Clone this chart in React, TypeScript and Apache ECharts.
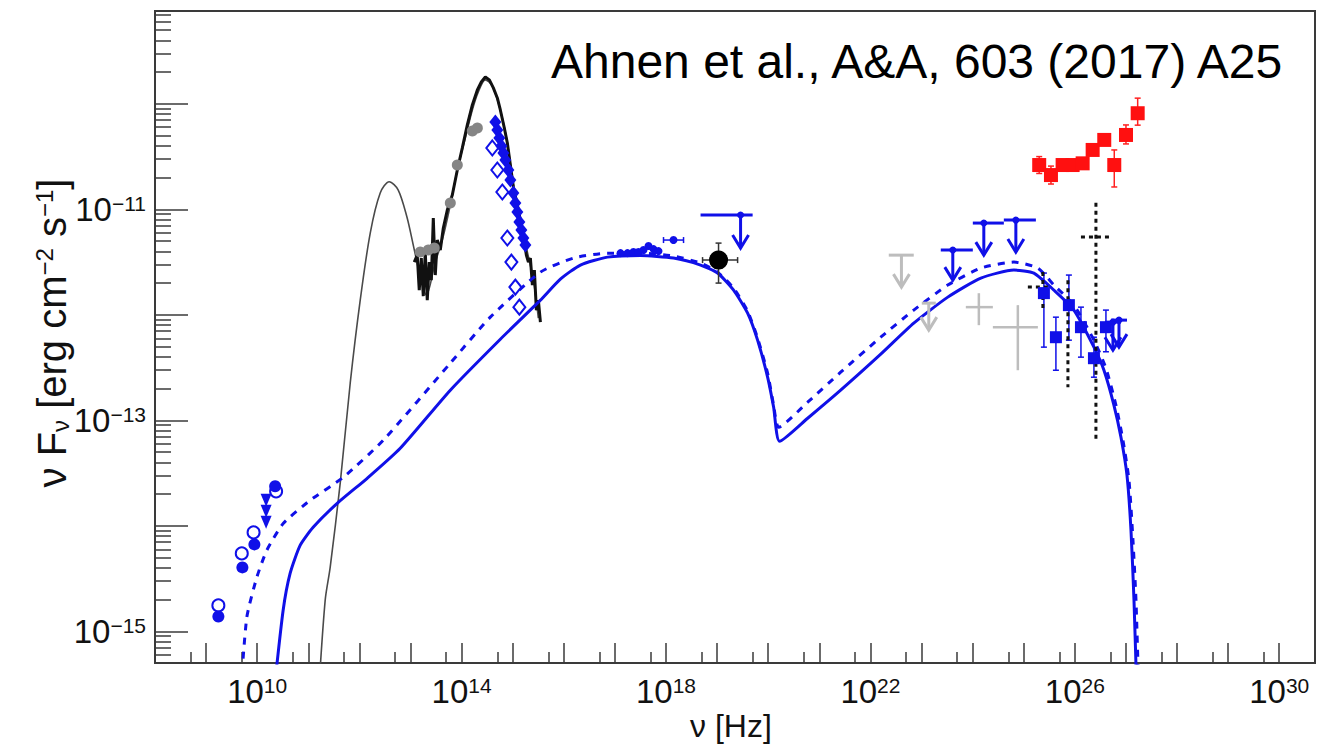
import React, { useEffect, useRef } from "react";
import * as echarts from "echarts";

// Axes are in log10 units: x = log10(nu / Hz), y = log10(nu F_nu / erg cm^-2 s^-1)
const X_MIN = 8;
const X_MAX = 30.7;
const Y_MIN = -15.3;
const Y_MAX = -9.12;

const X_LABELS = [10, 14, 18, 22, 26, 30];
const Y_LABELS = [-15, -13, -11];

// SSC model (solid)
const sscSolid = [
  [10.331, -15.561], [10.507, -14.802], [10.644, -14.451], [10.84, -14.185], [11.095, -14.014],
  [11.565, -13.787], [12.153, -13.549], [12.799, -13.265], [13.779, -12.714], [14.758, -12.231],
  [15.542, -11.861], [15.933, -11.661], [16.325, -11.528], [16.854, -11.453], [17.501, -11.438],
  [18.147, -11.462], [18.676, -11.528], [19.009, -11.604], [19.322, -11.766], [19.597, -11.984],
  [19.792, -12.24], [19.988, -12.591], [20.106, -12.876], [20.223, -13.198], [20.772, -12.98],
  [21.418, -12.714], [22.202, -12.373], [22.848, -12.079], [23.514, -11.832], [24.161, -11.652],
  [24.807, -11.576], [25.199, -11.604], [25.591, -11.766], [25.982, -11.955], [26.374, -12.306],
  [26.57, -12.525], [26.766, -12.857], [26.903, -13.16], [27.021, -13.521], [27.099, -14.043],
  [27.158, -14.707], [27.217, -15.656],
];

// SSC model (dashed)
const sscDashed = [
  [9.665, -15.656], [9.796, -14.868], [9.992, -14.489], [10.188, -14.232], [10.513, -13.976],
  [11.036, -13.758], [11.683, -13.54], [12.466, -13.189], [13.779, -12.458], [14.562, -12.022],
  [15.542, -11.595], [16.188, -11.462], [16.854, -11.415], [17.501, -11.415], [18.147, -11.443],
  [18.676, -11.509], [19.009, -11.595], [19.322, -11.747], [19.597, -11.965], [19.792, -12.221],
  [19.988, -12.553], [20.106, -12.857], [20.204, -13.065], [20.772, -12.828], [21.418, -12.544],
  [22.202, -12.212], [22.848, -11.955], [23.514, -11.718], [24.161, -11.557], [24.807, -11.5],
  [25.277, -11.557], [25.591, -11.718], [25.982, -11.908], [26.374, -12.24], [26.609, -12.506],
  [26.805, -12.857], [26.942, -13.189], [27.06, -13.568], [27.138, -14.138], [27.197, -14.707],
  [27.256, -15.656],
];

// thermal / host model (thin grey)
const hostModel = [
  [11.193, -15.656], [11.33, -14.707], [11.428, -14.394], [11.624, -13.597], [11.82, -12.648],
  [12.016, -11.861], [12.212, -11.225], [12.407, -10.845], [12.584, -10.738], [12.76, -10.817],
  [12.93, -11.073], [13.054, -11.339], [13.152, -11.557], [13.23, -11.718], [13.309, -11.813],
  [13.485, -11.5], [13.622, -11.291], [13.779, -10.959], [13.916, -10.627], [14.072, -10.324],
  [14.21, -10.058], [14.327, -9.887], [14.464, -9.773], [14.601, -9.83], [14.758, -10.058],
  [14.895, -10.371], [15.013, -10.769], [15.15, -11.102], [15.287, -11.405], [15.405, -11.671],
  [15.502, -12.031],
];

// optical spectrum (black)
const opticalSpectrum = [
  [13.073, -11.5], [13.132, -11.434], [13.171, -11.766], [13.211, -11.462], [13.25, -11.823],
  [13.289, -11.405], [13.328, -11.861], [13.367, -11.5], [13.407, -11.671], [13.446, -11.083],
  [13.485, -11.623], [13.524, -11.291], [13.583, -11.386], [13.642, -11.177], [13.72, -11.007],
  [13.818, -10.864], [13.916, -10.627], [14.014, -10.418], [14.112, -10.2], [14.21, -10.01],
  [14.308, -9.868], [14.386, -9.792], [14.464, -9.745], [14.543, -9.773], [14.621, -9.849],
  [14.699, -9.944], [14.758, -10.058], [14.836, -10.229], [14.895, -10.371], [14.954, -10.58],
  [15.013, -10.788], [15.091, -10.959], [15.15, -11.102], [15.209, -11.244], [15.267, -11.434],
  [15.307, -11.5], [15.346, -11.462], [15.385, -11.718], [15.424, -11.576], [15.463, -11.955],
  [15.502, -11.861], [15.542, -12.069],
];

const greyPoints = [
  [13.191, -11.405], [13.348, -11.386], [13.465, -11.367], [13.779, -10.94], [13.916, -10.58],
  [14.21, -10.257], [14.308, -10.229],
];

const radioFilled = [[9.24, -14.859], [9.71, -14.394], [9.945, -14.176], [10.351, -13.625]];
const radioOpen = [[9.24, -14.754], [9.698, -14.261], [9.929, -14.062], [10.37, -13.673]];
const radioTriangles = [[10.174, -13.758], [10.174, -13.862], [10.174, -13.967]];

const opticalFilled = [
  [14.66, -10.172], [14.699, -10.248], [14.738, -10.324], [14.778, -10.399], [14.817, -10.466],
  [14.856, -10.532], [14.915, -10.627], [14.954, -10.722], [15.013, -10.845], [15.052, -10.94],
  [15.091, -11.026], [15.13, -11.12], [15.169, -11.196], [15.209, -11.272], [15.248, -11.339],
];
const opticalOpen = [
  [14.601, -10.418], [14.699, -10.627], [14.797, -10.836], [14.895, -11.272], [14.974, -11.5],
  [15.052, -11.737], [15.13, -11.927],
];

const xrayPoints = [
  [17.109, -11.415], [17.246, -11.415], [17.363, -11.405], [17.461, -11.405], [17.559, -11.386],
  [17.657, -11.348], [17.755, -11.377], [17.853, -11.396], [18.147, -11.291],
];
const blackPoint = [[19.028, -11.481]];

const magicPoints = [
  [25.395, -11.794], [25.63, -12.212], [25.884, -11.908], [26.12, -12.117], [26.374, -12.411],
  [26.609, -12.117],
];
const redPoints = [
  [25.303, -10.58], [25.533, -10.675], [25.761, -10.58], [25.957, -10.58], [26.153, -10.564],
  [26.349, -10.437], [26.576, -10.342], [26.772, -10.58], [27.001, -10.295], [27.23, -10.089],
];

// error bars: [x, y, xlo, xhi, ylo, yhi]
const blueErrors = [
  [18.147, -11.291, 17.951, 18.343, -11.291, -11.291],
  [25.395, -11.794, 25.395, 25.395, -11.604, -12.306],
  [25.63, -12.212, 25.63, 25.63, -12.022, -12.525],
  [25.884, -11.908, 25.884, 25.884, -11.623, -12.24],
  [26.12, -12.117, 26.12, 26.12, -11.927, -12.401],
  [26.374, -12.411, 26.374, 26.374, -12.212, -12.591],
  [26.609, -12.117, 26.609, 26.609, -11.955, -12.35],
];
const blackErrors = [[19.028, -11.481, 18.715, 19.401, -11.32, -11.699]];
const greyCrosses = [
  [24.122, -11.927, 23.867, 24.396, -11.795, -12.098],
  [24.885, -12.117, 24.396, 25.277, -11.908, -12.525],
];
const dottedErrors = [
  [25.375, -11.737, 25.081, 25.493, -11.595, -11.955],
  [25.865, -12.05, 25.865, 25.865, -11.671, -12.686],
  [26.413, -11.263, 26.12, 26.707, -10.937, -13.189],
];
const redErrors = [
  [25.303, -10.58, 25.303, 25.303, -10.5, -10.66],
  [25.533, -10.675, 25.533, 25.533, -10.59, -10.76],
  [26.772, -10.58, 26.772, 26.772, -10.437, -10.788],
  [27.001, -10.295, 27.001, 27.001, -10.2, -10.38],
  [27.23, -10.089, 27.23, 27.23, -9.946, -10.202],
];

// upper limits: [xlo, xhi, ybar, xarrow, ytip]
const blueUL = [
  [18.676, 19.695, -11.054, 19.459, -11.367],
  [23.377, 24.004, -11.386, 23.612, -11.671],
  [24.004, 24.611, -11.13, 24.219, -11.434],
  [24.611, 25.238, -11.102, 24.846, -11.405],
  [26.746, 26.746, -12.069, 26.746, -12.335],
  [26.864, 26.864, -12.05, 26.864, -12.306],
];
const greyUL = [
  [22.359, 22.848, -11.434, 22.607, -11.737],
  [23.005, 23.279, -11.889, 23.142, -12.145],
];

const BLUE = "#1010e8";
const FONT = "'Liberation Sans', Arial, Helvetica, sans-serif";

const majorX: number[] = [];
const minorX: number[] = [];
for (let d = 8; d <= 30; d++) {
  majorX.push(d);
  minorX.push(d + Math.log10(5));
}
const majorY: number[] = [];
const minorY: number[] = [];
for (let d = -16; d <= -9; d++) {
  if (d >= Y_MIN && d <= Y_MAX) majorY.push(d);
  for (let k = 2; k <= 9; k++) {
    const v = d + Math.log10(k);
    if (v > Y_MIN && v < Y_MAX) minorY.push(v);
  }
}

function sup(v: number) {
  return String(v).replace("-", "\u2212");
}

function errorSeries(data: number[][], color: string, width: number, dashed: boolean, cap: number) {
  return {
    type: "custom",
    xAxisIndex: 0,
    yAxisIndex: 0,
    data,
    z: 3,
    silent: true,
    renderItem: (_p: any, api: any) => {
      const x = api.value(0), y = api.value(1);
      const xlo = api.value(2), xhi = api.value(3), ylo = api.value(4), yhi = api.value(5);
      const style: any = { stroke: color, lineWidth: width, lineDash: dashed ? [4, 4] : null };
      const capStyle: any = { stroke: color, lineWidth: width };
      const children: any[] = [];
      if (xlo !== xhi) {
        const a = api.coord([xlo, y]), b = api.coord([xhi, y]);
        children.push({ type: "line", shape: { x1: a[0], y1: a[1], x2: b[0], y2: b[1] }, style });
        if (cap > 0) {
          children.push({ type: "line", shape: { x1: a[0], y1: a[1] - cap, x2: a[0], y2: a[1] + cap }, style: capStyle });
          children.push({ type: "line", shape: { x1: b[0], y1: b[1] - cap, x2: b[0], y2: b[1] + cap }, style: capStyle });
        }
      }
      if (ylo !== yhi) {
        const a = api.coord([x, ylo]), b = api.coord([x, yhi]);
        children.push({ type: "line", shape: { x1: a[0], y1: a[1], x2: b[0], y2: b[1] }, style });
        if (cap > 0) {
          children.push({ type: "line", shape: { x1: a[0] - cap, y1: a[1], x2: a[0] + cap, y2: a[1] }, style: capStyle });
          children.push({ type: "line", shape: { x1: b[0] - cap, y1: b[1], x2: b[0] + cap, y2: b[1] }, style: capStyle });
        }
      }
      return { type: "group", children };
    },
  };
}

function ulSeries(data: number[][], color: string, width: number, dot: boolean) {
  return {
    type: "custom",
    xAxisIndex: 0,
    yAxisIndex: 0,
    data,
    z: 3,
    silent: true,
    renderItem: (_p: any, api: any) => {
      const xlo = api.value(0), xhi = api.value(1), yb = api.value(2), xa = api.value(3), yt = api.value(4);
      const style: any = { stroke: color, lineWidth: width, fill: "none" };
      const children: any[] = [];
      const base = api.coord([xa, yb]);
      const tip = api.coord([xa, yt]);
      if (xlo !== xhi) {
        const a = api.coord([xlo, yb]), b = api.coord([xhi, yb]);
        children.push({ type: "line", shape: { x1: a[0], y1: a[1], x2: b[0], y2: b[1] }, style });
      } else {
        children.push({ type: "line", shape: { x1: base[0] - 8, y1: base[1], x2: base[0] + 8, y2: base[1] }, style });
      }
      children.push({ type: "line", shape: { x1: base[0], y1: base[1], x2: tip[0], y2: tip[1] }, style });
      children.push({
        type: "polyline",
        shape: { points: [[tip[0] - 8, tip[1] - 13], [tip[0], tip[1]], [tip[0] + 8, tip[1] - 13]] },
        style,
      });
      if (dot) children.push({ type: "circle", shape: { cx: base[0], cy: base[1], r: 3.5 }, style: { fill: color } });
      return { type: "group", children };
    },
  };
}

function scatter(data: number[][], symbol: string, size: any, color: string, extra: any = {}) {
  return {
    type: "scatter",
    data,
    symbol,
    symbolSize: size,
    itemStyle: { color, opacity: 1, ...(extra.itemStyle || {}) },
    symbolRotate: extra.rotate || 0,
    z: extra.z || 5,
    silent: true,
  };
}

const option: any = {
  animation: false,
  backgroundColor: "#fff",
  grid: {
    left: 155,
    right: 13,
    top: 11,
    bottom: 86,
    show: true,
    borderColor: "#3a3a3a",
    borderWidth: 2,
    backgroundColor: "transparent",
  },
  xAxis: [
    {
      type: "value",
      min: X_MIN,
      max: X_MAX,
      axisLine: { show: false },
      splitLine: { show: false },
      axisTick: { show: true, inside: true, length: 20, customValues: majorX, lineStyle: { color: "#3a3a3a", width: 1.5 } },
      axisLabel: {
        customValues: X_LABELS,
        margin: 12,
        formatter: (v: number) => `{b|10}{s|${sup(Math.round(v))}}`,
        rich: {
          b: { fontSize: 33, fontFamily: FONT, color: "#111" },
          s: { fontSize: 21, fontFamily: FONT, color: "#111", verticalAlign: "top" },
        },
      },
    },
    {
      type: "value",
      min: X_MIN,
      max: X_MAX,
      position: "bottom",
      axisLine: { show: false },
      splitLine: { show: false },
      axisTick: { show: true, inside: true, length: 11, customValues: minorX, lineStyle: { color: "#3a3a3a", width: 1.5 } },
      axisLabel: { show: false },
    },
  ],
  yAxis: [
    {
      type: "value",
      min: Y_MIN,
      max: Y_MAX,
      axisLine: { show: false },
      splitLine: { show: false },
      axisTick: { show: true, inside: true, length: 33, customValues: majorY, lineStyle: { color: "#3a3a3a", width: 1.5 } },
      axisLabel: {
        customValues: Y_LABELS,
        margin: 9,
        formatter: (v: number) => `{b|10}{s|${sup(Math.round(v))}}`,
        rich: {
          b: { fontSize: 33, fontFamily: FONT, color: "#111" },
          s: { fontSize: 21, fontFamily: FONT, color: "#111", verticalAlign: "top" },
        },
      },
    },
    {
      type: "value",
      min: Y_MIN,
      max: Y_MAX,
      position: "left",
      axisLine: { show: false },
      splitLine: { show: false },
      axisTick: { show: true, inside: true, length: 16, customValues: minorY, lineStyle: { color: "#3a3a3a", width: 1.5 } },
      axisLabel: { show: false },
    },
  ],
  graphic: [
    {
      type: "text",
      left: 551,
      top: 37,
      style: { text: "Ahnen et al., A&A, 603 (2017) A25", font: `48px ${FONT}`, fill: "#000" },
    },
    {
      type: "text",
      left: 690,
      top: 710,
      style: { text: "\u03bd [Hz]", font: `32px ${FONT}`, fill: "#111" },
    },
    {
      type: "text",
      x: 52,
      y: 333,
      rotation: Math.PI / 2,
      style: {
        text: "{m|\u03bd F}{sub|\u03bd}{m| [erg cm}{sup|\u22122}{m| s}{sup|\u22121}{m|]}",
        align: "center",
        verticalAlign: "middle",
        rich: {
          m: { fontSize: 40, fontFamily: FONT, fill: "#111" },
          sub: { fontSize: 24, fontFamily: FONT, fill: "#111", verticalAlign: "bottom" },
          sup: { fontSize: 24, fontFamily: FONT, fill: "#111", verticalAlign: "top" },
        },
      },
    },
  ],
  series: [
    {
      type: "line",
      data: hostModel,
      showSymbol: false,
      smooth: 0.3,
      lineStyle: { color: "#4a4a4a", width: 1.6 },
      z: 2,
      silent: true,
    },
    {
      type: "line",
      data: opticalSpectrum,
      showSymbol: false,
      lineStyle: { color: "#111", width: 3 },
      z: 2,
      silent: true,
    },
    {
      type: "line",
      data: sscDashed,
      showSymbol: false,
      smooth: 0.2,
      lineStyle: { color: BLUE, width: 3, type: [7, 7] },
      z: 2,
      silent: true,
    },
    {
      type: "line",
      data: sscSolid,
      showSymbol: false,
      smooth: 0.2,
      lineStyle: { color: BLUE, width: 3 },
      z: 2,
      silent: true,
    },
    errorSeries(greyCrosses, "#bdbdbd", 2.5, false, 0),
    ulSeries(greyUL, "#bdbdbd", 3, false),
    errorSeries(blueErrors, BLUE, 1.5, false, 3),
    errorSeries(blackErrors, "#333", 1.5, false, 3),
    errorSeries(redErrors, "#ff2020", 1.5, false, 3),
    errorSeries(dottedErrors, "#111", 3, true, 0),
    ulSeries(blueUL, BLUE, 3, true),
    scatter(greyPoints, "circle", 11, "#858585", { z: 4 }),
    scatter(radioOpen, "emptyCircle", 12, BLUE, { z: 4, itemStyle: { borderWidth: 2 } }),
    scatter(radioFilled, "circle", 12, BLUE),
    scatter(radioTriangles, "triangle", [11, 13], BLUE, { rotate: 180 }),
    scatter(opticalOpen, "emptyDiamond", [12, 15], BLUE, { z: 4, itemStyle: { borderWidth: 1.5 } }),
    scatter(opticalFilled, "diamond", [12, 15], BLUE),
    scatter(xrayPoints, "circle", 8, BLUE),
    scatter(blackPoint, "circle", 19, "#000"),
    scatter(magicPoints, "rect", 12, BLUE),
    scatter(redPoints, "rect", 14, "#ff1010"),
  ],
};

export default function App() {
  const ref = useRef<HTMLDivElement>(null);
  useEffect(() => {
    const chart = echarts.init(ref.current!, null, { renderer: "svg" });
    chart.setOption(option);
    return () => chart.dispose();
  }, []);
  return (
    <div
      ref={ref}
      style={{ position: "absolute", left: 0, top: 0, width: 1328, height: 749, background: "#fff" }}
    />
  );
}
